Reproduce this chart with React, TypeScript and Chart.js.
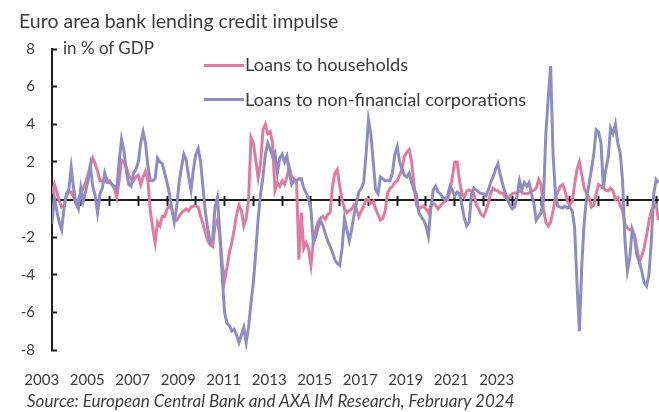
import React, { useEffect, useRef } from 'react';
import { Chart, registerables } from 'chart.js';

Chart.register(...registerables);

// ---------- data (monthly, Jan 2003 – Feb 2024) ----------
const START_YEAR = 2003;

const households = [
  0.3, 0.8, 0.4, -0.1, -0.4, -0.3, 0.2, 0.4, 0.4, 0.1, -0.2, 0.0,
  0.3, 0.6, 0.9, 1.3, 1.8, 2.2, 1.9, 1.5, 1.0, 1.0, 1.0, 0.9,
  1.0, 0.8, 0.6, 0.1, 1.0, 2.1, 2.0, 1.7, 1.3, 1.1, 1.0, 1.2,
  1.3, 0.8, 1.2, 1.5, 1.0, -0.6, -1.5, -2.3, -1.2, -1.4, -0.9, -0.9,
  -0.5, -0.35, -0.5, -1.0, -1.1, -0.9, -0.7, -0.6, -0.5, -0.6, -0.4, -0.35,
  -0.35, -0.4, -0.9, -1.3, -1.8, -2.2, -2.4, -2.5, -1.4, -1.1, -1.9, -3.4,
  -4.3, -3.6, -2.8, -2.3, -1.6, -0.8, -0.3, -0.6, -1.4, -1.0, 0.0, 3.3,
  3.0, 2.1, 1.15, 1.9, 3.7, 4.0, 3.5, 3.6, 3.0, 0.5, 0.9, 0.7,
  1.0, 0.8, 1.2, 1.7, 1.2, 1.1, 1.0, -3.2, -0.7, -2.6, -2.3, -2.6,
  -3.5, -2.3, -1.6, -1.2, -1.0, -0.9, -1.06, -0.8, -0.7, 0.7, 1.4, 1.6,
  0.7, 0.0, -0.5, -0.7, -0.6, -0.5, -0.3, -0.5, -0.9, -0.6, -0.35, 0.0,
  0.0, -0.2, -0.1, -0.5, -0.8, -1.1, -1.0, -0.6, 0.35, 0.6, 0.7, 0.9,
  1.0, 1.3, 1.6, 2.3, 2.5, 2.65, 2.0, 0.8, -0.3, -0.5, -0.4, -0.35,
  -0.5, -0.7, -0.35, -0.2, -0.3, -0.5, -0.35, -0.2, -0.1, 0.0, 0.4, 1.2,
  2.0, 2.0, 1.0, 0.3, 0.1, 0.45, 0.5, 0.45, 0.3, -0.3, -0.5, -0.8,
  -0.9, -0.6, -0.2, 0.35, 0.6, 0.5, 0.45, 0.35, 0.35, 0.1, 0.0, 0.18,
  0.3, 0.35, 0.35, 0.45, 0.4, 0.3, 0.3, 0.35, 0.45, 0.5, 0.6, 1.06,
  0.8, -0.5, -1.2, -1.4, -1.2, -0.6, 0.1, 0.4, 0.7, 0.8, 0.45, -0.1,
  -0.3, -0.1, 0.8, 1.6, 2.0, 1.3, 0.6, 0.3, 0.1, -0.4, -0.3, 0.3,
  0.8, 0.7, 0.6, 0.5, 0.45, 0.6, 0.45, 0.0, 0.1, -0.3, -0.6, -1.3,
  -1.5, -1.6, -1.6, -1.9, -2.6, -3.3, -3.0, -2.6, -1.9, -1.15, -0.6, -0.4,
  -0.3, -1.1,
];

const nonFinancialCorporations = [
  -1.3, 0.1, -0.6, -1.2, -1.6, -0.5, 0.3, 0.5, 1.7, 0.6, -0.2, -0.5,
  0.6, -0.1, 0.4, 1.0, 1.8, 0.7, 0.2, -0.7, 0.3, 0.6, 1.4, 1.0,
  0.9, 0.8, 0.7, 0.5, 2.0, 3.2, 2.6, 1.5, 0.8, 0.7, 1.4, 1.6,
  2.0, 3.0, 3.6, 3.0, 1.8, 1.0, 1.0, 1.1, 2.2, 2.0, 1.9, 1.4,
  0.9, 0.3, -0.5, -1.2, -0.4, 0.9, 1.7, 2.4, 2.1, 1.2, 0.5, 1.6,
  2.4, 2.7, 2.0, 0.6, -0.7, -1.6, -2.3, -2.1, -0.4, 0.1, -1.8, -4.1,
  -6.0, -6.6, -6.7, -7.0, -6.9, -7.2, -7.6, -7.2, -6.8, -7.6, -6.8, -5.5,
  -4.4, -2.8, -1.0, 0.3, 1.2, 2.4, 3.0, 2.7, 2.3, 2.5, 1.4, 2.2,
  2.4, 2.0, 2.3, 1.4, 0.8, 1.0, 1.0, 1.1, 1.1, 0.6, 0.35, 0.0,
  -0.5, -2.3, -2.0, -1.5, -1.1, -1.4, -1.8, -2.2, -2.5, -2.8, -3.2, -3.4,
  -3.5, -2.6, -1.0, -1.6, -2.2, -1.6, -0.8, -0.2, 0.4, 0.6, 0.9, 2.4,
  4.25, 3.5, 2.0, 0.5, 0.3, 1.2, 1.1, 1.0, 1.0, 1.0, 1.4, 2.4,
  2.8, 2.0, 1.6, 1.3, 1.2, 1.4, 0.9, 0.5, 0.3, -0.7, -0.9, -1.1,
  -1.4, -1.95, -0.5, 0.5, 0.7, 0.4, 0.3, 0.1, 0.0, 0.2, 0.7, 0.5,
  0.2, 0.4, 0.3, -0.3, -1.0, -1.4, -1.2, 0.3, 0.6, 0.5, 0.4, 0.3,
  0.3, 0.2, 0.5, 0.9, 1.2, 1.6, 1.9, 1.3, 0.8, 0.4, 0.0, -0.3,
  -0.5, -0.4, 0.2, 1.0, 0.5, 0.9, 0.7, 0.9, 0.3, -0.2, -1.1, -0.9,
  -0.7, 0.0, 3.5, 5.4, 7.1, 2.4, 0.3, -0.35, -0.4, -0.45, -0.35, -0.45,
  -0.4, -0.6, -1.5, -4.5, -7.0, -3.5, -1.2, 0.1, 0.8, 1.6, 2.4, 3.7,
  3.6, 3.0, 0.6, 1.6, 2.2, 3.8, 3.5, 4.0, 3.0, 2.5, 1.0, -2.2,
  -3.8, -3.1, -1.6, -2.0, -3.0, -3.3, -3.8, -4.4, -4.6, -4.0, -2.2, 0.3,
  1.06, 0.9,
];

const yearTicks = [
  2003, 2004, 2005, 2006, 2007, 2008, 2009, 2010, 2011, 2012, 2013,
  2014, 2015, 2016, 2017, 2018, 2019, 2020, 2021, 2022, 2023, 2024,
];
const yearLabels = ['2003', '2005', '2007', '2009', '2011', '2013', '2015', '2017', '2019', '2021', '2023'];
const yTicks = [-8, -6, -4, -2, 0, 2, 4, 6, 8];

const TITLE = 'Euro area bank lending credit impulse';
const SUBTITLE = 'in % of GDP';
const SERIES_NAMES = ['Loans to households', 'Loans to non-financial corporations'];
const SOURCE = 'Source: European Central Bank and AXA IM Research, February 2024';

// ---------- styles ----------
const W = 659;
const H = 412;
const PINK = '#e07ba0';
const LAVENDER = '#8d8dc3';
const AXIS = '#1e1e1e';
const TEXT = '#3c3c3c';
const FONT = 'Lato, "Noto Sans", sans-serif';
const LABEL_PX_PER_YEAR = 22.75;

const monthX = households.map((_, i) => START_YEAR + i / 12);

export default function App() {
  const canvasRef = useRef<HTMLCanvasElement | null>(null);

  useEffect(() => {
    const canvas = canvasRef.current;
    if (!canvas) return;
    const tickFont = { family: FONT, size: 15 };
    const chart = new Chart(canvas, {
      type: 'line',
      data: {
        datasets: [
          {
            label: SERIES_NAMES[0],
            data: households.map((v, i) => ({ x: monthX[i], y: v })),
            borderColor: PINK,
            borderWidth: 3,
            pointRadius: 0,
            tension: 0,
            order: 1,
          },
          {
            label: SERIES_NAMES[1],
            data: nonFinancialCorporations.map((v, i) => ({ x: monthX[i], y: v })),
            borderColor: LAVENDER,
            borderWidth: 3,
            pointRadius: 0,
            tension: 0,
            order: 0,
          },
        ],
      },
      options: {
        animation: false,
        responsive: false,
        devicePixelRatio: 1,
        layout: { padding: { top: 49, left: 0, right: 0, bottom: 0 } },
        plugins: {
          legend: { display: false },
          tooltip: { enabled: false },
          title: { display: false },
        },
        scales: {
          x: {
            type: 'linear',
            min: 2003,
            max: 2024.1,
            position: { y: 0 } as any,
            afterBuildTicks: (s: any) => {
              s.ticks = yearTicks.map((v) => ({ value: v }));
            },
            ticks: { display: false },
            grid: { drawOnChartArea: false, color: AXIS, tickColor: AXIS, tickLength: 5, tickWidth: 2 },
            border: { color: AXIS, width: 2 },
          },
          xUp: {
            type: 'linear',
            min: 2003,
            max: 2024.1,
            position: { y: 0 } as any,
            afterBuildTicks: (s: any) => {
              s.ticks = yearTicks.map((v) => ({ value: v }));
            },
            ticks: { display: false },
            grid: { drawOnChartArea: false, color: AXIS, tickColor: AXIS, tickLength: -4, tickWidth: 2 },
            border: { display: false },
          },
          xl: {
            type: 'linear',
            position: 'bottom',
            min: 2002,
            max: 2002 + 607 / LABEL_PX_PER_YEAR,
            afterBuildTicks: (s: any) => {
              s.ticks = yearLabels.map((l) => ({ value: Number(l) }));
            },
            afterFit: (s: any) => {
              s.height = 62;
            },
            ticks: {
              autoSkip: false,
              maxRotation: 0,
              minRotation: 0,
              labelOffset: -33,
              padding: 21,
              color: TEXT,
              font: tickFont,
              callback: (v: any) => String(v),
            },
            grid: { display: false, drawTicks: false },
            border: { display: false },
          },
          y: {
            type: 'linear',
            min: -8,
            max: 8,
            afterBuildTicks: (s: any) => {
              s.ticks = yTicks.map((v) => ({ value: v }));
            },
            afterFit: (s: any) => {
              s.width = 52;
            },
            ticks: { padding: 22, color: TEXT, font: tickFont },
            grid: { drawOnChartArea: false, color: AXIS, tickColor: AXIS, tickLength: -5, tickWidth: 2 },
            border: { color: AXIS, width: 2 },
          },
        },
      },
    } as any);
    return () => chart.destroy();
  }, []);

  const legendLine = (color: string, top: number) => (
    <div style={{ position: 'absolute', left: 204, top, width: 40, height: 3, background: color }} />
  );

  return (
    <div
      style={{
        position: 'absolute',
        left: 0,
        top: 0,
        width: W,
        height: H,
        background: '#fff',
        overflow: 'hidden',
        fontFamily: FONT,
        color: TEXT,
      }}
    >
      <canvas ref={canvasRef} width={W} height={H} style={{ position: 'absolute', left: 0, top: 0 }} />
      <div style={{ position: 'absolute', left: 19, top: 9, fontSize: 19.5, lineHeight: 1.2, whiteSpace: 'nowrap' }}>
        {TITLE}
      </div>
      <div style={{ position: 'absolute', left: 63, top: 38, fontSize: 17, lineHeight: 1.2, whiteSpace: 'nowrap' }}>
        {SUBTITLE}
      </div>
      {legendLine(PINK, 63.5)}
      <div style={{ position: 'absolute', left: 245, top: 54, fontSize: 18.2, lineHeight: 1.2, whiteSpace: 'nowrap' }}>
        {SERIES_NAMES[0]}
      </div>
      {legendLine(LAVENDER, 98)}
      <div style={{ position: 'absolute', left: 245, top: 88.5, fontSize: 18.2, lineHeight: 1.2, whiteSpace: 'nowrap' }}>
        {SERIES_NAMES[1]}
      </div>
      <div
        style={{
          position: 'absolute',
          left: 27,
          top: 391,
          fontSize: 17,
          lineHeight: 1.2,
          fontStyle: 'italic',
          whiteSpace: 'nowrap',
        }}
      >
        {SOURCE}
      </div>
    </div>
  );
}
